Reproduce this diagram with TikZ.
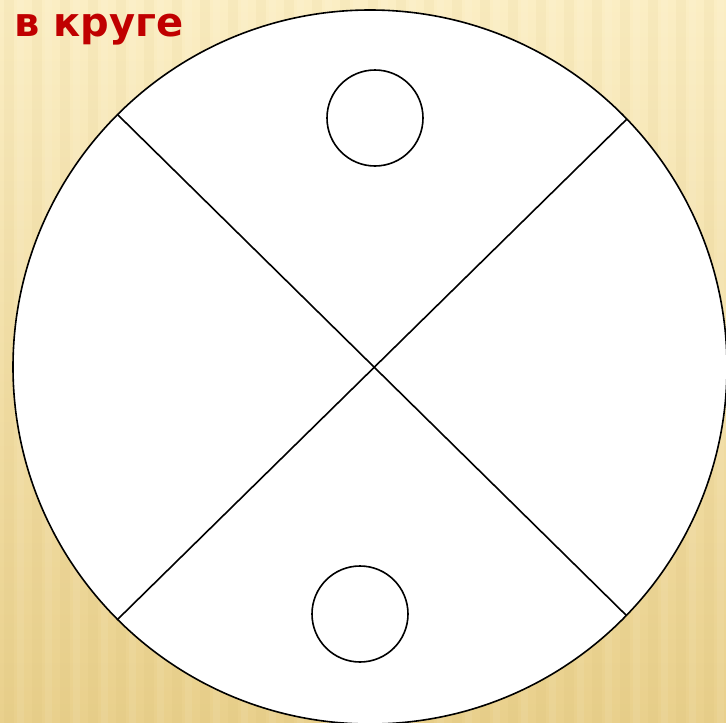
\documentclass[tikz,border=0pt]{standalone}
\usepackage{fontspec}
\newfontfamily\labelfont{DejaVu Sans}
\begin{document}
\begin{tikzpicture}[x=1pt,y=-1pt,
  chord/.style={draw=black,line width=1.6pt},
  dot/.style={circle,draw=black,line width=1.6pt,fill=white,minimum size=96pt,inner sep=0pt},
  title/.style={font=\labelfont\bfseries\fontsize{40}{44}\selectfont,text=titlered,inner sep=0pt}]
\definecolor{titlered}{RGB}{192,0,0}
\definecolor{bgtop}{RGB}{251,238,196}
\definecolor{bgbot}{RGB}{233,208,140}
\definecolor{stripe}{RGB}{205,175,100}
\useasboundingbox (0,0) rectangle (726,723);
% background
\shade[top color=bgtop,bottom color=bgbot] (0,0) rectangle (726,723);
\foreach \i in {0,...,26}{
  \fill[stripe,opacity=0.08] ({\i*28+4},0) rectangle ({\i*28+14},723);
  \fill[white,opacity=0.07] ({\i*28+17},0) rectangle ({\i*28+24},723);
}
% big circle
\coordinate (c) at (370,367);
\fill[white] (c) circle (357);
\coordinate (tl) at (118,115);
\coordinate (tr) at (630,116);
\coordinate (bl) at (118,619);
\coordinate (br) at (630,619);
\begin{scope}
  \clip (c) circle (357);
  \draw[chord] (tl) -- (br);
  \draw[chord] (tr) -- (bl);
\end{scope}
\draw[draw=black,line width=1.6pt] (c) circle (357);
% small circles
\node[dot] (top) at (375,118) {};
\node[dot] (bottom) at (360,614) {};
% title
\node[title,anchor=base west] (t) at (14,36) {в круге};
\end{tikzpicture}
\end{document}
